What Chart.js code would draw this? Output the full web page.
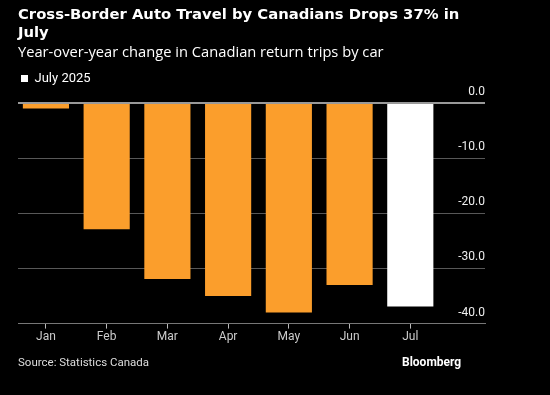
<!DOCTYPE html>
<html>
<head>
<meta charset="utf-8">
<script src="https://cdn.jsdelivr.net/npm/chart.js@4"></script>
<style>
  html, body { margin: 0; padding: 0; background: #000; }
  #wrap { position: relative; width: 550px; height: 395px; overflow: hidden; }
  #chart { position: absolute; left: 0; top: 0; }
  .txt { position: absolute; color: #fff; white-space: nowrap; font-family: Roboto, sans-serif; }
  #title { left: 18px; top: 5px; font-family: 'DejaVu Sans', sans-serif; font-size: 14.8px; font-weight: bold; line-height: 18px; }
  #subtitle { left: 18px; top: 41px; font-family: 'Open Sans', sans-serif; font-size: 14.7px; }
  #source { left: 18px; top: 355px; font-size: 11.5px; color: #ddd; }
  #brand { left: 402px; top: 355px; font-size: 12px; font-weight: bold; }
</style>
</head>
<body>
<div id="wrap">
  <canvas id="chart" width="550" height="395"></canvas>
  <div class="txt" id="title">Cross-Border Auto Travel by Canadians Drops 37% in<br>July</div>
  <div class="txt" id="subtitle">Year-over-year change in Canadian return trips by car</div>
  <div class="txt" id="source">Source: Statistics Canada</div>
  <div class="txt" id="brand">Bloomberg</div>
</div>
<script>
const months = ['Jan', 'Feb', 'Mar', 'Apr', 'May', 'Jun', 'Jul'];
const tripChange = [-1.0, -22.9, -31.9, -35.0, -38.0, -33.0, -36.9];
const highlightMonth = 'Jul';
const yTicks = [0, -10, -20, -30, -40];

const barColors = months.map(m => m === highlightMonth ? '#ffffff' : '#fb9e2c');

const ctx = document.getElementById('chart').getContext('2d');
new Chart(ctx, {
  type: 'bar',
  data: {
    datasets: [{
      label: 'July 2025',
      data: tripChange.map((v, i) => ({ x: i, y: v })),
      backgroundColor: barColors,
      borderWidth: 0,
      categoryPercentage: 1,
      barPercentage: 0.76
    }]
  },
  options: {
    responsive: false,
    animation: false,
    layout: { padding: { left: 18, right: 65, top: 69, bottom: 50 } },
    plugins: {
      legend: {
        position: 'top',
        align: 'start',
        labels: {
          color: '#fff',
          font: { family: 'Roboto', size: 13 },
          boxWidth: 7,
          boxHeight: 7,
          padding: 3,
          generateLabels: () => [{ text: 'July 2025', fillStyle: '#fff', strokeStyle: '#fff', lineWidth: 0, fontColor: '#fff' }]
        }
      },
      tooltip: { enabled: false }
    },
    scales: {
      x: {
        type: 'linear',
        offset: false,
        min: -0.46,
        max: 7.23,
        afterBuildTicks: scale => { scale.ticks = months.map((_, i) => ({ value: i })); },
        ticks: {
          color: '#ccc',
          font: { family: 'Roboto', size: 12 },
          padding: 1,
          maxRotation: 0,
          callback: v => months[v]
        },
        grid: { offset: false, drawOnChartArea: false, drawTicks: true, tickLength: 5, tickColor: '#bbb' },
        border: { display: true, color: '#777', width: 1 }
      },
      y: {
        position: 'right',
        min: -40,
        max: 1.45,
        afterBuildTicks: scale => { scale.ticks = yTicks.map(v => ({ value: v })); },
        ticks: {
          mirror: true,
          padding: 0,
          labelOffset: -11,
          color: '#eee',
          font: { family: 'Roboto', size: 12 },
          callback: v => v.toFixed(1)
        },
        grid: {
          drawTicks: false,
          color: c => c.tick && c.tick.value === 0 ? '#999' : '#585858',
          lineWidth: c => c.tick && c.tick.value === 0 ? 2 : 1
        },
        border: { display: false }
      }
    }
  }
});
</script>
</body>
</html>
